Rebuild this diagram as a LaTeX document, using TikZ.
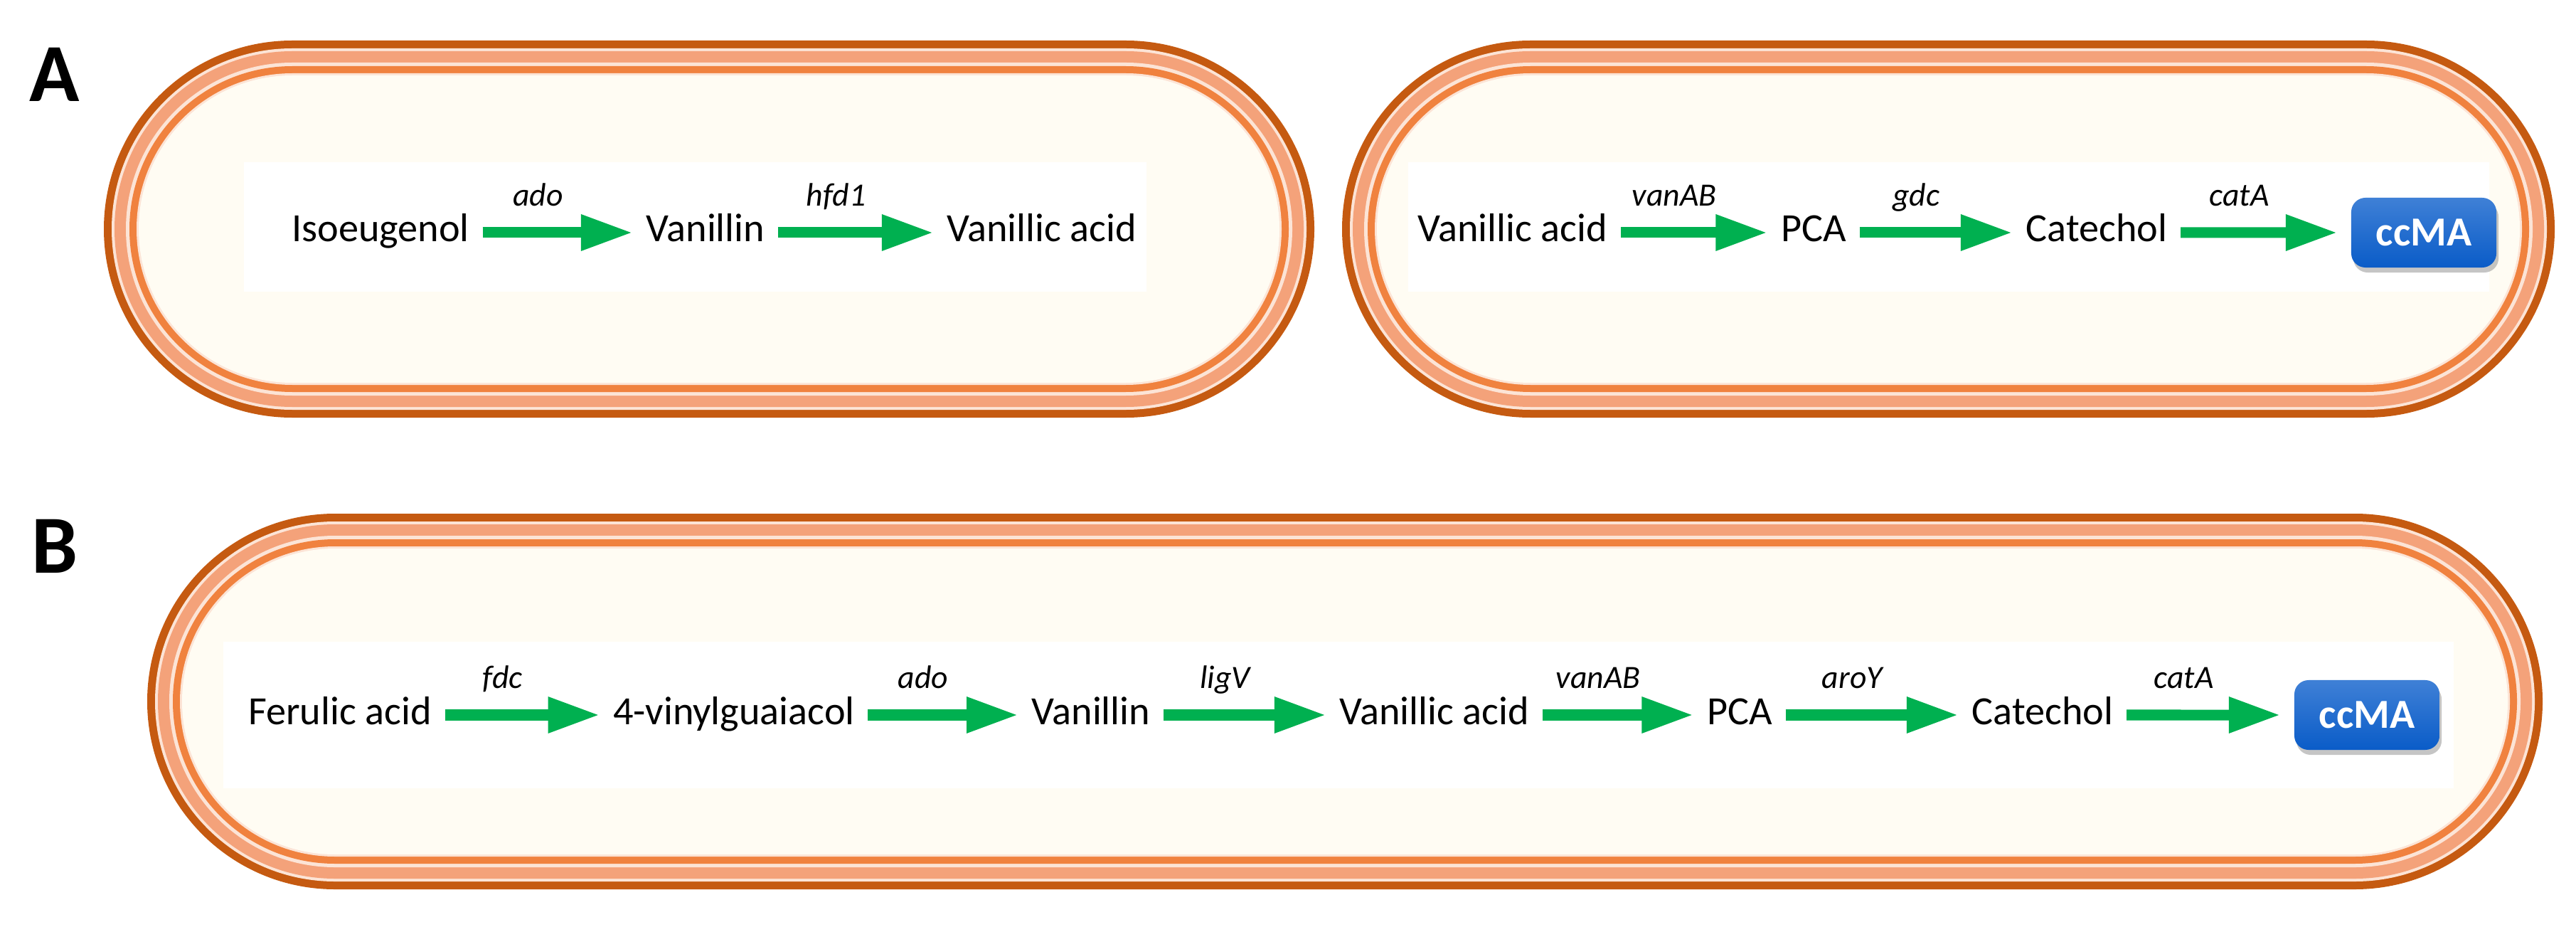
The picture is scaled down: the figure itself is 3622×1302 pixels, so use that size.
\documentclass[tikz,border=0pt]{standalone}
\usepackage{fontspec}
\setmainfont{Carlito}
\usepackage{tikz}
\usetikzlibrary{arrows.meta,shadows}
\definecolor{walldark}{HTML}{C55A11}
\definecolor{wallpale}{HTML}{FCE4D6}
\definecolor{wallsalmon}{HTML}{F4A27A}
\definecolor{wallorange}{HTML}{F0823F}
\definecolor{cellfill}{HTML}{FFFCF3}
\definecolor{arrowgreen}{HTML}{00B050}
\definecolor{boxtop}{HTML}{3F80D6}
\definecolor{boxbottom}{HTML}{0A5CC8}
\tikzset{
  >=Latex,
  compound/.style={
    font=\fontsize{16pt}{19pt}\selectfont,
    text height=11pt,
    text depth=3.6pt,
    inner xsep=0.18cm,
    inner ysep=0pt,
    anchor=base
  },
  gene label/.style={
    font=\fontsize{13pt}{15pt}\selectfont\itshape,
    anchor=base,
    inner sep=0pt,
    xshift=-0.28cm,
    yshift=0.37cm
  },
  reaction/.style={
    draw=arrowgreen,
    line width=0.15cm,
    -{Triangle[length=0.73cm,width=0.47cm]}
  },
  product box/.style={
    rounded corners=0.2cm,
    top color=boxtop,
    bottom color=boxbottom,
    text=white,
    font=\fontsize{16.5pt}{19pt}\selectfont\bfseries,
    minimum width=2.04cm,
    minimum height=0.98cm,
    outer xsep=0.19cm,
    drop shadow={shadow xshift=0.03cm,shadow yshift=-0.07cm,opacity=0.45}
  },
  panel label/.style={
    font=\fontsize{33pt}{36pt}\selectfont\bfseries,
    anchor=base,
    inner sep=0pt
  }
}
% capsule cell with layered wall: left x, right x, centre y, half height
\newcommand{\cellwall}[4]{%
  \foreach \off/\wallcol in {0/walldark,11/wallpale,15/wallsalmon,31/wallpale,36/wallorange,46/wallpale,49/cellfill}{
    \pgfmathsetmacro{\rad}{#4-\off}
    \pgfmathsetlengthmacro{\radlen}{\rad*0.01cm}
    \fill[\wallcol] (#1+#4,#3+\rad) -- (#2-#4,#3+\rad)
      arc[start angle=90,end angle=-90,radius=\radlen]
      -- (#1+#4,#3-\rad)
      arc[start angle=270,end angle=90,radius=\radlen] -- cycle;
  }%
}

\begin{document}
\begin{tikzpicture}[x=0.01cm,y=0.01cm]
  \useasboundingbox (0,0) rectangle (3622,1302);

  \cellwall{146}{1848}{980}{265}
  \cellwall{1887}{3592}{980}{265}
  \cellwall{207}{3575}{316}{264}

  \fill[white] (343,892) rectangle (1612,1074);
  \fill[white] (1980,892) rectangle (3500,1074);
  \fill[white] (314,194) rectangle (3450,400);

  \node[panel label] (lab-A) at (77,1159) {A};
  \node[panel label] (lab-B) at (77,497) {B};

  % panel A, first cell
  \node[compound] (A1-1) at (535,962) {Isoeugenol};
  \node[compound] (A1-2) at (992,962) {Vanillin};
  \node[compound] (A1-3) at (1465,962) {Vanillic acid};

  \draw[reaction] (A1-1) -- (A1-2) node[midway,gene label] {ado};
  \draw[reaction] (A1-2) -- (A1-3) node[midway,gene label] {hfd1};

  % panel A, second cell
  \node[compound] (A2-1) at (2127,962) {Vanillic acid};
  \node[compound] (A2-2) at (2550,962) {PCA};
  \node[compound] (A2-3) at (2948,962) {Catechol};
  \node[product box] (A2-4) at (3408,975) {ccMA};

  \draw[reaction] (A2-1) -- (A2-2) node[midway,gene label] {vanAB};
  \draw[reaction] (A2-2) -- (A2-3) node[midway,gene label] {gdc};
  \draw[reaction] (A2-3) -- (A2-4) node[midway,gene label] {catA};

  % panel B
  \node[compound] (B-1) at (478,284) {Ferulic acid};
  \node[compound] (B-2) at (1032,284) {4-vinylguaiacol};
  \node[compound] (B-3) at (1534,284) {Vanillin};
  \node[compound] (B-4) at (2017,284) {Vanillic acid};
  \node[compound] (B-5) at (2446,284) {PCA};
  \node[compound] (B-6) at (2872,284) {Catechol};
  \node[product box] (B-7) at (3328,297) {ccMA};

  \draw[reaction] (B-1) -- (B-2) node[midway,gene label] {fdc};
  \draw[reaction] (B-2) -- (B-3) node[midway,gene label] {ado};
  \draw[reaction] (B-3) -- (B-4) node[midway,gene label] {ligV};
  \draw[reaction] (B-4) -- (B-5) node[midway,gene label] {vanAB};
  \draw[reaction] (B-5) -- (B-6) node[midway,gene label] {aroY};
  \draw[reaction] (B-6) -- (B-7) node[midway,gene label] {catA};
\end{tikzpicture}
\end{document}
